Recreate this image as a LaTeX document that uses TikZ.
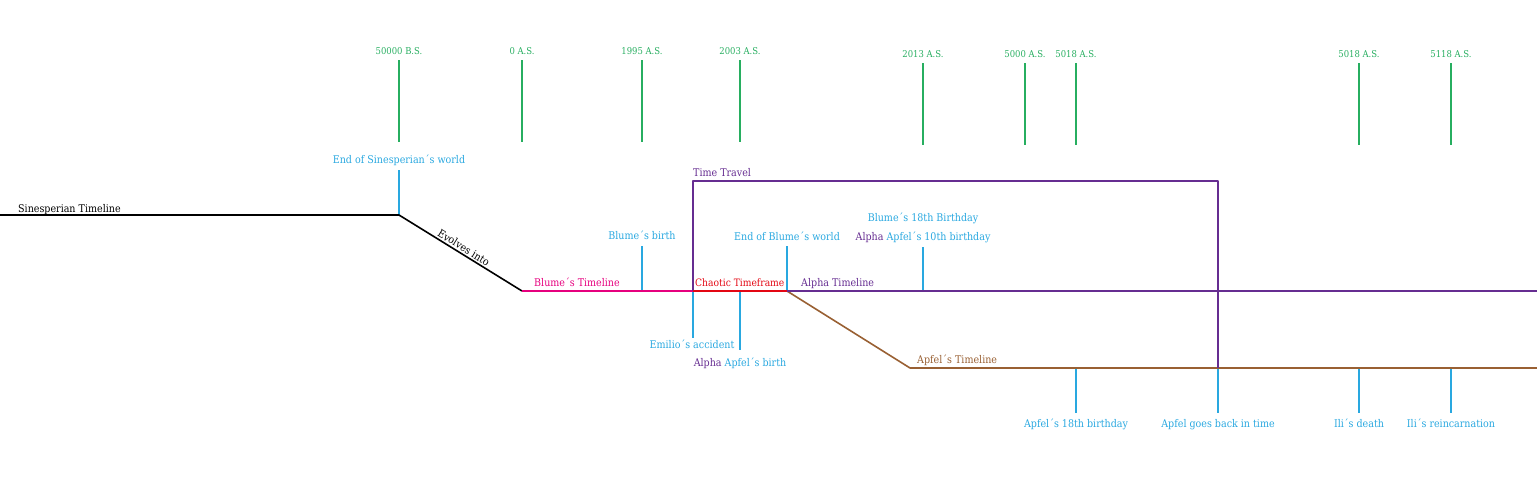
\documentclass[tikz,border=0pt]{standalone}
\usepackage{fontspec}
\setmainfont{DejaVu Serif Condensed}
\definecolor{tgreen}{RGB}{39,174,96}
\definecolor{tblue}{RGB}{41,168,224}
\definecolor{tpink}{RGB}{230,0,126}
\definecolor{tred}{RGB}{227,6,19}
\definecolor{tpurple}{RGB}{102,45,145}
\definecolor{tbrown}{RGB}{153,96,51}
\begin{document}
\begin{tikzpicture}[x=1pt,y=-1pt,
  lbl/.style={font=\fontsize{10.6}{12}\selectfont, inner sep=0pt, anchor=base},
  yearlbl/.style={lbl, text=tgreen, font=\fontsize{9.4}{11}\selectfont},
  evlbl/.style={lbl, text=tblue},
  leftlbl/.style={lbl, anchor=base west},
  yeartick/.style={draw=tgreen, line width=1.5pt},
  evtick/.style={draw=tblue, line width=1.5pt},
  tl/.style={line width=1.6pt, line join=round}]
\useasboundingbox (0,0) rectangle (1537,488);

% year ticks
\foreach \x/\n/\t/\yt in {399/a/50000 B.S./54, 522/b/0 A.S./54, 642/c/1995 A.S./54, 740/d/2003 A.S./54,
  923/e/2013 A.S./57, 1025/f/5000 A.S./57, 1076/g/5018 A.S./57, 1359/h/5018 A.S./57, 1451/i/5118 A.S./57}{
  \node[yearlbl] (yl\n) at (\x,\yt) {\t};
  \coordinate (yt\n) at (\x,\yt+6);
  \coordinate (yb\n) at (\x,\yt+88);
  \draw[yeartick] (yt\n) -- (yb\n);
}

% timeline points
\coordinate (s0) at (0,215);
\coordinate (s1) at (399,215);
\coordinate (b0) at (522,291);
\coordinate (c0) at (693,291);
\coordinate (a0) at (787,291);
\coordinate (aend) at (1537,291);
\coordinate (p0) at (910,368);
\coordinate (pend) at (1537,368);
\coordinate (tt1) at (693,181);
\coordinate (tt2) at (1218,181);
\coordinate (tt3) at (1218,368);

% event ticks (upper)
\coordinate (e1t) at (399,170);
\coordinate (e2t) at (642,246);
\coordinate (e2b) at (642,291);
\coordinate (e3t) at (787,246);
\coordinate (e4t) at (923,247);
\coordinate (e4b) at (923,291);
\coordinate (e5b) at (693,338);
\coordinate (e6t) at (740,291);
\coordinate (e6b) at (740,350);
\draw[evtick] (e1t) -- (s1);
\draw[evtick] (e2t) -- (e2b);
\draw[evtick] (e3t) -- (a0);
\draw[evtick] (e4t) -- (e4b);
\draw[evtick] (c0) -- (e5b);
\draw[evtick] (e6t) -- (e6b);

% lower event ticks
\foreach \x/\n in {1076/a, 1218/b, 1359/c, 1451/d}{
  \coordinate (lt\n) at (\x,368);
  \coordinate (lb\n) at (\x,413);
  \draw[evtick] (lt\n) -- (lb\n);
}

% timelines
\draw[tl, black] (s0) -- (s1) -- node[midway, above, sloped, inner sep=1.5pt, font=\fontsize{10.6}{12}\selectfont] (evo) {Evolves into} (b0);
\draw[tl, tpink] (b0) -- (c0);
\draw[tl, tbrown] (a0) -- (p0) -- (pend);
\draw[tl, tpurple] (c0) -- (tt1) -- (tt2) -- (tt3);
\draw[tl, tred] (c0) -- (a0);
\draw[tl, tpurple] (a0) -- (aend);

% labels
\node[leftlbl] (lsin) at (18,212) {Sinesperian Timeline};
\node[evlbl] (lend1) at (399,163) {End of Sinesperian´s world};
\node[leftlbl, text=tpurple] (ltt) at (693,176) {Time Travel};
\node[evlbl] (lb18) at (923,221) {Blume´s 18th Birthday};
\node[evlbl] (la10) at (923,240) {{\color{tpurple}Alpha} Apfel´s 10th birthday};
\node[evlbl] (lbb) at (642,239) {Blume´s birth};
\node[evlbl] (leb) at (787,240) {End of Blume´s world};
\node[leftlbl, text=tpink] (lbt) at (534,286) {Blume´s Timeline};
\node[leftlbl, text=tred, font=\fontsize{10.2}{12}\selectfont] (lct) at (695,286) {Chaotic Timeframe};
\node[leftlbl, text=tpurple] (lat) at (801,286) {Alpha Timeline};
\node[evlbl] (lem) at (692,348) {Emilio´s accident};
\node[evlbl] (lab) at (740,366) {{\color{tpurple}Alpha} Apfel´s birth};
\node[leftlbl, text=tbrown] (lpt) at (917,363) {Apfel´s Timeline};
\node[evlbl] (l18) at (1076,427) {Apfel´s 18th birthday};
\node[evlbl] (lgb) at (1218,427) {Apfel goes back in time};
\node[evlbl] (lid) at (1359,427) {Ili´s death};
\node[evlbl] (lir) at (1451,427) {Ili´s reincarnation};
\end{tikzpicture}
\end{document}
